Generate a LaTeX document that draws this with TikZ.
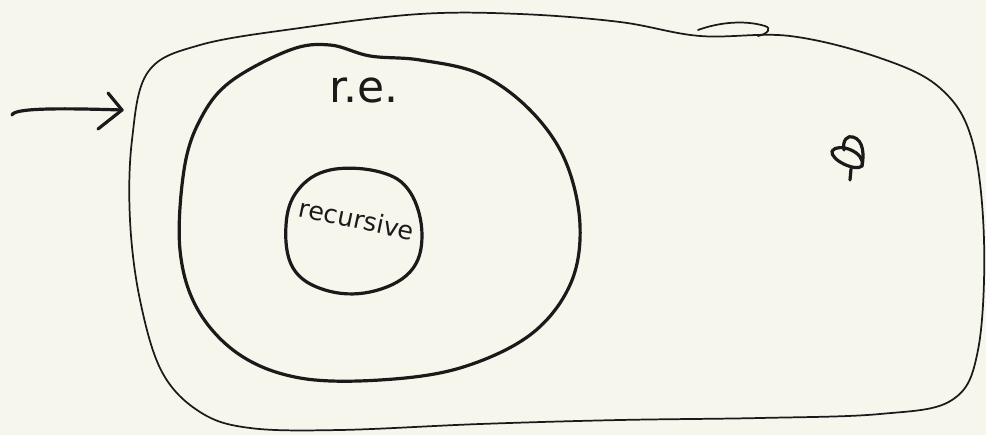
\documentclass[tikz,border=0pt]{standalone}
\usepackage{fontspec}
\setmainfont{DejaVu Sans}
\definecolor{paper}{HTML}{F7F6EC}
\definecolor{ink}{HTML}{1A1A1A}
\begin{document}
\begin{tikzpicture}[x=0.75pt,y=-0.75pt,
  pen/.style={draw=ink,line cap=round,line join=round},
  thin pen/.style={pen,line width=1.3pt},
  thick pen/.style={pen,line width=2.4pt},
  label/.style={text=ink,inner sep=0pt}]
\fill[paper] (0,0) rectangle (986,435);
\useasboundingbox (0,0) rectangle (986,435);
% outer region
\draw[thin pen] plot[smooth cycle,tension=0.6] coordinates {
  (148,72) (200,45) (300,28) (420,14) (520,14) (620,22) (700,36)
  (790,36) (880,58) (940,88) (972,140) (984,240) (978,350) (952,400)
  (880,414) (760,418) (620,420) (480,424) (340,430) (250,428) (200,412)
  (162,372) (140,300) (130,220) (132,140)};
\draw[thin pen] (698,30) .. controls (720,22) and (745,20) .. (765,26)
  .. controls (772,28) and (768,34) .. (758,36);
% r.e. region
\draw[thick pen] plot[smooth cycle,tension=0.6] coordinates {
  (230,82) (290,50) (330,45) (370,56) (420,60) (480,74) (530,110)
  (565,160) (580,225) (570,285) (530,335) (460,368) (380,380) (300,378)
  (240,355) (198,310) (180,250) (184,170) (200,120)};
% recursive region
\draw[thick pen] plot[smooth cycle,tension=0.65] coordinates {
  (330,170) (380,172) (410,192) (422,235) (410,272) (370,292) (325,290)
  (293,268) (286,225) (298,190)};
% arrow
\coordinate (a0) at (12,115);
\coordinate (a1) at (122,110);
\draw[thick pen] (a0) .. controls (14,108) and (60,108) .. (a1);
\draw[thick pen] (108,93) -- (a1) -- (98,129);
% labels
\node[label,font=\fontsize{33}{33}\selectfont] (re) at (364,90) {r.e.};
\node[label,font=\fontsize{19}{19}\selectfont,rotate=-12] (rec) at (357,219) {recursive};
% symbol at right
\draw[thick pen] (832,151) .. controls (838,142) and (866,152) .. (862,166)
  .. controls (856,172) and (830,160) .. (832,151);
\draw[thick pen] (844,150) .. controls (842,140) and (848,135) .. (853,137)
  .. controls (864,140) and (864,156) .. (862,166);
\draw[thick pen] (851,169) -- (850,180);
\end{tikzpicture}
\end{document}
